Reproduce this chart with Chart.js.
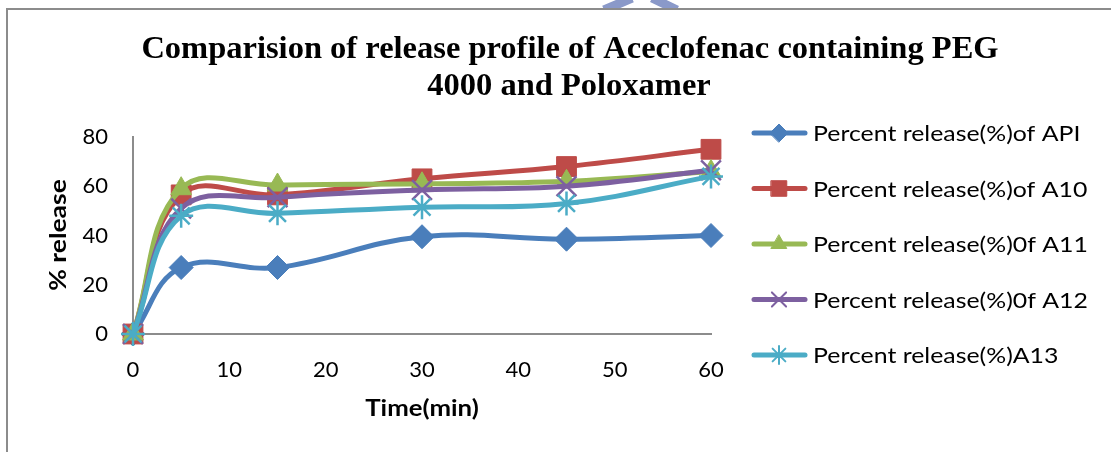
<!DOCTYPE html>
<html>
<head>
<meta charset="utf-8">
<script src="https://cdn.jsdelivr.net/npm/chart.js@4/dist/chart.umd.min.js"></script>
<style>
  html, body { margin: 0; padding: 0; background: #ffffff; }
  #wrap { position: relative; width: 1111px; height: 452px; }
  canvas { display: block; }
</style>
</head>
<body>
<div id="wrap"><canvas id="chart" width="1111" height="452"></canvas></div>
<script>
// Sampling times (min)
const times = [0, 5, 15, 30, 45, 60];

// Percent released at each sampling time
const releaseAPI = [0, 27, 27, 39.5, 38.5, 40];
const releaseA10 = [0, 56.5, 56.5, 63, 68, 75];
const releaseA11 = [0, 59, 60.5, 61, 62, 66];
const releaseA12 = [0, 51, 55.5, 58.5, 60, 66.5];
const releaseA13 = [0, 48, 49, 51.5, 53, 64];

const seriesNames = [
  'Percent release(%)of API',
  'Percent release(%)of A10',
  'Percent release(%)0f A11',
  'Percent release(%)0f A12',
  'Percent release(%)A13'
];

const xTicks = [0, 10, 20, 30, 40, 50, 60];
const yTicks = [0, 20, 40, 60, 80];

const titleLines = ['Comparision of release profile of Aceclofenac containing PEG', '4000 and Poloxamer'];
const xTitle = 'Time(min)';
const yTitle = '% release';

const SANS = 'Lato, "Open Sans", sans-serif';

function pts(vals) { return times.map((t, i) => ({ x: t, y: vals[i] })); }

const styles = [
  { color: '#4A7EBB', point: 'rectRot', r: 12, lr: 9, fill: true },
  { color: '#BE4B48', point: 'rect', r: 14, lr: 11, fill: true },
  { color: '#98B954', point: 'triangle', r: 12, lr: 9, fill: true },
  { color: '#7D60A0', point: 'crossRot', r: 14, lr: 10, fill: false },
  { color: '#4BACC6', point: 'star', r: 12, lr: 9, fill: false }
];
const seriesValues = [releaseAPI, releaseA10, releaseA11, releaseA12, releaseA13];

const datasets = seriesValues.map((vals, i) => ({
  label: seriesNames[i],
  data: pts(vals),
  borderColor: styles[i].color,
  backgroundColor: styles[i].color,
  pointBackgroundColor: styles[i].color,
  pointBorderColor: styles[i].color,
  pointBorderWidth: styles[i].fill ? 1 : 2.5,
  pointStyle: styles[i].point,
  pointRadius: styles[i].r,
  borderWidth: 5,
  tension: 0.4,
  fill: false,
  clip: false,
  order: seriesValues.length - 1 - i
}));

// draws text widened horizontally by sx around its anchor
function wideText(ctx, text, x, y, sx, align) {
  ctx.save();
  ctx.translate(x, y);
  ctx.scale(sx, 1);
  ctx.textAlign = align;
  ctx.fillText(text, 0, 0);
  ctx.restore();
}

// Frame, title, axis titles, legend and the small emblem at the top edge
const decor = {
  id: 'decor',
  beforeDraw(chart) {
    const ctx = chart.ctx;
    ctx.save();
    // emblem fragment
    ctx.strokeStyle = '#8A99C9';
    ctx.lineWidth = 9;
    ctx.lineCap = 'butt';
    ctx.beginPath();
    ctx.moveTo(604, 10); ctx.lineTo(632, -2);
    ctx.moveTo(652, -2); ctx.lineTo(677, 10);
    ctx.stroke();
    // outer frame (top and left)
    ctx.fillStyle = '#ffffff';
    ctx.fillRect(8, 10, 1103, 442);
    ctx.strokeStyle = '#8C8C8C';
    ctx.lineWidth = 2;
    ctx.beginPath();
    ctx.moveTo(1111, 9); ctx.lineTo(7, 9); ctx.lineTo(7, 452);
    ctx.stroke();
    ctx.restore();
  },
  afterDraw(chart) {
    const ctx = chart.ctx;
    const area = chart.chartArea;
    ctx.save();
    ctx.fillStyle = '#000000';
    ctx.textAlign = 'center';
    ctx.textBaseline = 'alphabetic';
    ctx.font = 'bold 32.5px "Liberation Serif", "Times New Roman", serif';
    ctx.fillText(titleLines[0], 570, 58);
    ctx.fillText(titleLines[1], 569, 95);

    // axis titles
    ctx.font = 'bold 23px ' + SANS;
    ctx.textBaseline = 'middle';
    wideText(ctx, xTitle, (area.left + area.right) / 2, 409, 1.12, 'center');
    ctx.translate(59, 235);
    ctx.rotate(-Math.PI / 2);
    wideText(ctx, yTitle, 0, 0, 1.15, 'center');
    ctx.restore();

    // legend
    ctx.save();
    ctx.font = '22px ' + SANS;
    ctx.textBaseline = 'middle';
    chart.data.datasets.forEach((ds, i) => {
      const y = 133 + i * 55.5;
      ctx.strokeStyle = ds.borderColor;
      ctx.lineWidth = 5;
      ctx.lineCap = 'round';
      ctx.beginPath();
      ctx.moveTo(754, y); ctx.lineTo(805, y);
      ctx.stroke();
      ctx.fillStyle = ds.borderColor;
      ctx.strokeStyle = ds.borderColor;
      ctx.lineWidth = styles[i].fill ? 1 : 2;
      Chart.helpers.drawPoint(ctx, { pointStyle: ds.pointStyle, radius: styles[i].lr, borderWidth: ctx.lineWidth, rotation: 0 }, 779, y);
      ctx.fillStyle = '#000000';
      wideText(ctx, ds.label, 813, y + 1, 1.13, 'left');
    });
    ctx.restore();
  }
};

new Chart(document.getElementById('chart'), {
  type: 'line',
  data: { datasets },
  options: {
    responsive: false,
    animation: false,
    events: [],
    layout: { padding: { top: 137, right: 400, left: 0, bottom: 0 } },
    plugins: { legend: { display: false }, title: { display: false }, tooltip: { enabled: false } },
    scales: {
      x: {
        type: 'linear',
        min: 0, max: 60,
        afterFit(scale) { scale.height = 452 - 334; },
        afterBuildTicks(scale) { scale.ticks = xTicks.map(v => ({ value: v })); },
        grid: { display: false, drawTicks: false },
        border: { display: true, color: '#8C8C8C', width: 2 },
        ticks: { color: '#000', font: { family: SANS, size: 22 }, padding: 23, maxRotation: 0 }
      },
      y: {
        min: 0, max: 80,
        afterFit(scale) { scale.width = 133; },
        afterBuildTicks(scale) { scale.ticks = yTicks.map(v => ({ value: v })); },
        grid: { display: false, drawTicks: false },
        border: { display: true, color: '#8C8C8C', width: 2 },
        ticks: { color: '#000', font: { family: SANS, size: 22 }, padding: 25 }
      }
    }
  },
  plugins: [decor]
});
</script>
</body>
</html>
